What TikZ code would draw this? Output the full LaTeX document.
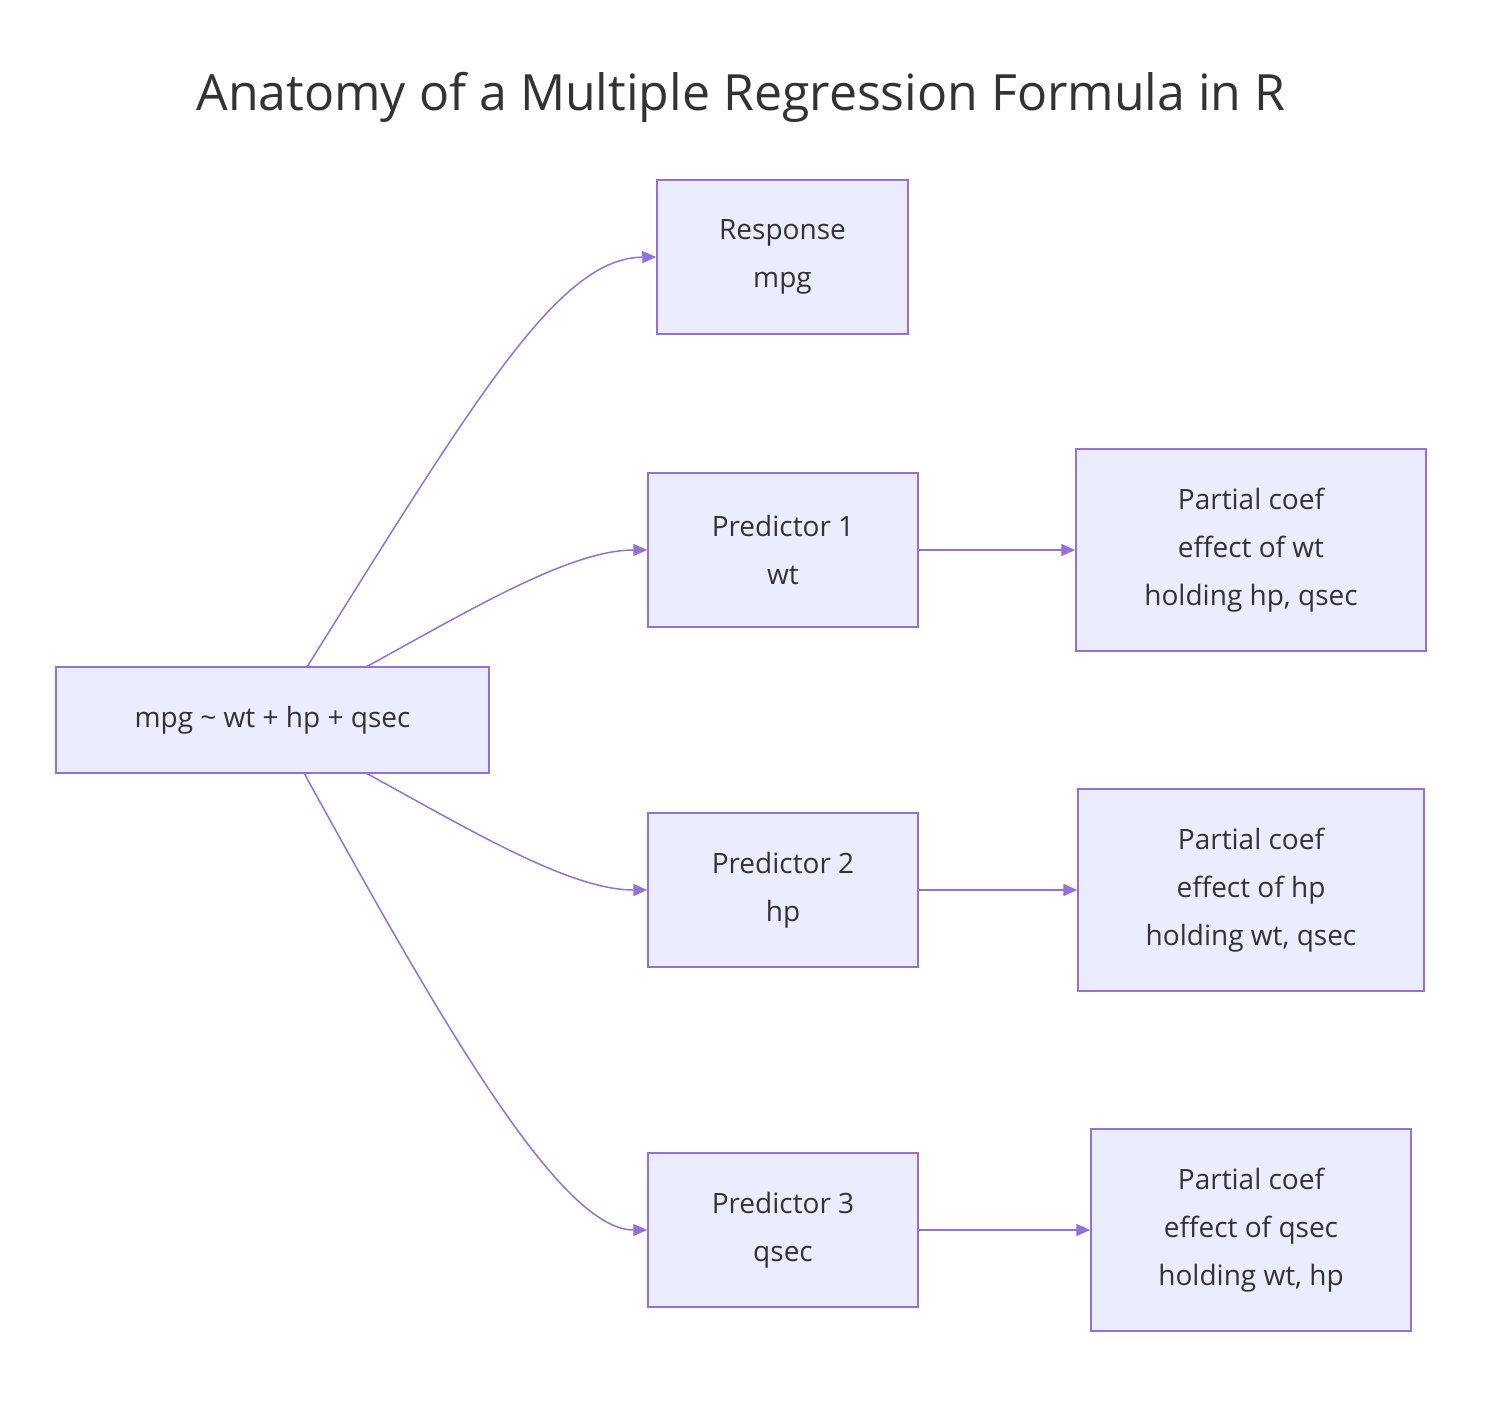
\documentclass[tikz,border=0pt]{standalone}
\usepackage{fontspec}
\setmainfont{Open Sans}
\usetikzlibrary{arrows.meta}
\definecolor{nfill}{HTML}{ECECFF}
\definecolor{nline}{HTML}{9370DB}
\definecolor{ntext}{HTML}{333333}
\begin{document}
\begin{tikzpicture}[x=1pt,y=-1pt,
  box/.style={draw=nline,fill=nfill,line width=1.5pt,text=ntext,align=center,
    font=\fontsize{28}{48}\selectfont,inner sep=0pt},
  conn/.style={draw=nline,line width=1.5pt,-{Triangle[length=14pt,width=12pt]}}]
\useasboundingbox[fill=white] (0,0) rectangle (1498,1402);
\node[text=ntext,font=\fontsize{50}{60}\selectfont] (title) at (741,97) {Anatomy of a Multiple Regression Formula in R};
\node[box,minimum width=433pt,minimum height=106pt] (f) at (272.5,720) {mpg \textasciitilde{} wt + hp + qsec};
\node[box,minimum width=251pt,minimum height=154pt] (r) at (782.5,257) {Response\\mpg};
\node[box,minimum width=270pt,minimum height=154pt] (p1) at (783,550) {Predictor 1\\wt};
\node[box,minimum width=270pt,minimum height=154pt] (p2) at (783,890) {Predictor 2\\hp};
\node[box,minimum width=270pt,minimum height=154pt] (p3) at (783,1230) {Predictor 3\\qsec};
\node[box,minimum width=350pt,minimum height=202pt] (c1) at (1251,550) {Partial coef\\effect of wt\\holding hp, qsec};
\node[box,minimum width=346pt,minimum height=202pt] (c2) at (1251,890) {Partial coef\\effect of hp\\holding wt, qsec};
\node[box,minimum width=320pt,minimum height=202pt] (c3) at (1251,1230) {Partial coef\\effect of qsec\\holding wt, hp};
\coordinate (s0) at (307,667);
\coordinate (s1) at (366,667);
\coordinate (s2) at (366,773);
\coordinate (s3) at (304,773);
\draw[conn] (s0) .. controls (480,390) and (560,258) .. (r.west);
\draw[conn] (s1) .. controls (470,610) and (570,550) .. (p1.west);
\draw[conn] (s2) .. controls (470,830) and (570,890) .. (p2.west);
\draw[conn] (s3) .. controls (440,1020) and (560,1230) .. (p3.west);
\draw[conn] (p1.east) -- (c1.west);
\draw[conn] (p2.east) -- (c2.west);
\draw[conn] (p3.east) -- (c3.west);
\end{tikzpicture}
\end{document}
